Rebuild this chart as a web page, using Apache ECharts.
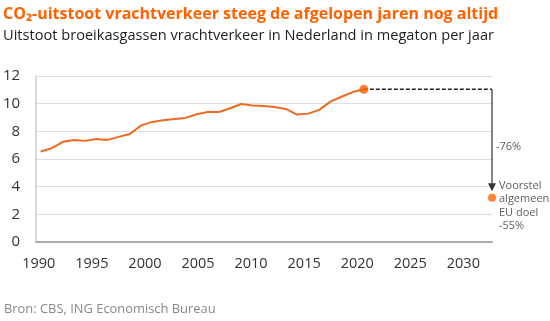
<!DOCTYPE html>
<html><head><meta charset="utf-8">
<script src="https://cdn.jsdelivr.net/npm/echarts@6/dist/echarts.min.js"></script>
<style>html,body{margin:0;padding:0;background:#fff}#c{width:550px;height:321px}</style>
</head><body><div id="c"></div>
<script>
var years = [1990,1991,1992,1993,1994,1995,1996,1997,1998,1999,2000,2001,2002,2003,2004,2005,2006,2007,2008,2009,2010,2011,2012,2013,2014,2015,2016,2017,2018,2019];
var emissions = [6.54,6.78,7.24,7.38,7.31,7.45,7.38,7.6,7.81,8.41,8.68,8.8,8.9,8.97,9.23,9.4,9.4,9.67,9.98,9.86,9.84,9.76,9.62,9.21,9.28,9.55,10.15,10.5,10.84,11.04];
var tickYears = [1990,1995,2000,2005,2010,2015,2020,2025,2030];
var targetYear = 2030.5;
var targetValue = 3.2;
var arrowTip = 3.95;
var changeLabel = '-76%';
var changeLabelValue = 6.88;
var targetLabel = ['Voorstel','algemeen','EU doel','-55%'];

var lineData = years.map(function(y,i){return [y, emissions[i]];});
var last = lineData[lineData.length-1];
var FONT = 'Open Sans';
var chart = echarts.init(document.getElementById('c'), null, {renderer:'canvas'});
chart.setOption({
  animation:false,
  textStyle:{fontFamily:FONT},
  title:[
    {text:'CO₂-uitstoot vrachtverkeer steeg de afgelopen jaren nog altijd', left:-2, top:1,
     textStyle:{color:'#ff6200', fontSize:16, fontWeight:'bold', fontFamily:FONT}},
    {text:'Uitstoot broeikasgassen vrachtverkeer in Nederland in megaton per jaar', left:-2, top:23,
     textStyle:{color:'#222', fontSize:14.6, fontWeight:'normal', fontFamily:FONT}},
    {text:'Bron: CBS, ING Economisch Bureau', left:-1, top:298,
     textStyle:{color:'#888', fontSize:12.9, fontWeight:'normal', fontFamily:FONT}}
  ],
  grid:{left:36, right:58, top:76, bottom:79, containLabel:false},
  xAxis:[
    {type:'value', min:1989.6, max:2030.5, show:false},
    {type:'value', min:1989.75, max:2032.7, position:'bottom',
     axisLine:{show:true, lineStyle:{color:'#aaa', width:2}},
     axisTick:{show:false}, splitLine:{show:false},
     axisLabel:{customValues:tickYears, formatter:function(v){return String(Math.round(v));},
       color:'#333', fontSize:14.5, margin:14, fontFamily:FONT}}
  ],
  yAxis:{type:'value', min:0, max:12, interval:2,
    axisLine:{show:true, lineStyle:{color:'#ccc', width:1.5}},
    axisTick:{show:false},
    splitLine:{lineStyle:{color:'#ddd', width:1}},
    axisLabel:{color:'#333', fontSize:15, margin:16, fontFamily:FONT}},
  series:[
    {type:'line', xAxisIndex:0, data:lineData, symbol:'none',
     lineStyle:{color:'#ee6a1e', width:2}, z:3},
    {type:'line', xAxisIndex:0, data:[last,[targetYear,last[1]]], symbol:'none',
     lineStyle:{color:'#222', width:1.5, type:[4,2]}, z:2},
    {type:'line', xAxisIndex:0, symbol:'none',
     data:[{value:[targetYear,last[1]], symbol:'none'},
           {value:[targetYear,arrowTip], symbol:'triangle', symbolRotate:180, symbolSize:[8,8]}],
     lineStyle:{color:'#333', width:1.2}, itemStyle:{color:'#333'}, z:2, clip:false},
    {type:'scatter', xAxisIndex:0, data:[last], symbolSize:9,
     itemStyle:{color:'#ff6200'}, z:4, clip:false},
    {type:'scatter', xAxisIndex:0, data:[[targetYear,targetValue]], symbolSize:8,
     itemStyle:{color:'#ff6200'}, z:4, clip:false,
     label:{show:true, position:'right', distance:3, offset:[0,8], formatter:targetLabel.join('\n'),
       color:'#333', fontSize:11, lineHeight:13.5, fontFamily:FONT}},
    {type:'scatter', xAxisIndex:0, data:[[targetYear,changeLabelValue]], symbolSize:0, clip:false,
     label:{show:true, position:'right', distance:4, formatter:changeLabel,
       color:'#333', fontSize:11, fontFamily:FONT}}
  ]
});
</script></body></html>
